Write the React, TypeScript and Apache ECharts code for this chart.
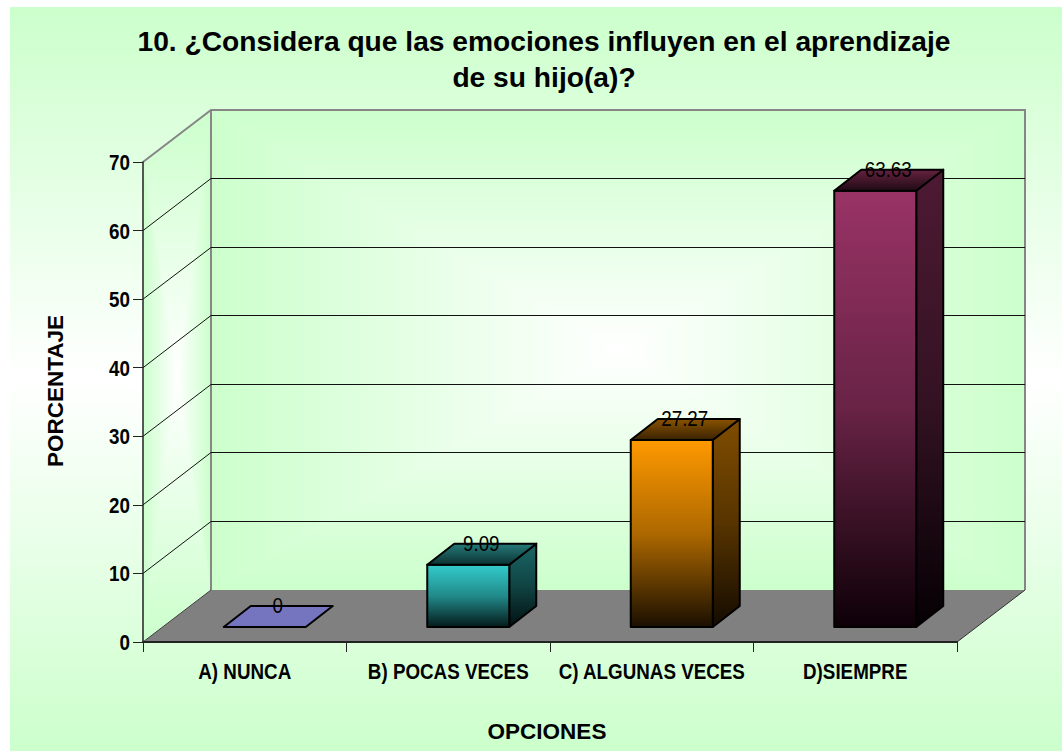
import React, { useEffect, useRef } from "react";
import * as echarts from "echarts";

const TITLE = "10. ¿Considera que las emociones influyen en el aprendizaje\nde su hijo(a)?";
const Y_NAME = "PORCENTAJE";
const X_NAME = "OPCIONES";
const categories = ["A) NUNCA", "B) POCAS VECES", "C) ALGUNAS VECES", "D)SIEMPRE"];
const values = [0, 9.09, 27.27, 63.63];
const yTicks = [0, 10, 20, 30, 40, 50, 60, 70];

const GREEN = "#CCFFCC";
const SANS = '"Liberation Sans", Arial, sans-serif';
const DX = 68, DY = -52; // wall depth
const GAPX = 20, GAPY = -15; // bar placement inside depth
const BW = 82, BDX = 27, BDY = -21; // bar width and depth
const SQUEEZE = 0.855;

// top, middle, bottom of front and side; back and front edge of the top face
const barColors = [
  { front: ["#7575BF", "#7575BF", "#7575BF"], side: ["#7575BF", "#7575BF", "#7575BF"], top: ["#7575BF", "#7575BF"] },
  { front: ["#33CCCC", "#228A8A", "#051A1A"], side: ["#1A6666", "#114444", "#021010"], top: ["#267A7A", "#0C3333"] },
  { front: ["#FF9900", "#AD6800", "#1A0F00"], side: ["#804D00", "#573400", "#140B00"], top: ["#8A5300", "#3A2200"] },
  { front: ["#993366", "#682345", "#0D0007"], side: ["#4D1A33", "#341223", "#050003"], top: ["#66223F", "#200B16"] },
];

const vg = (...cs: string[]) => ({
  type: "linear", x: 0, y: 0, x2: 0, y2: 1,
  colorStops: cs.map((color, i) => ({ offset: i / (cs.length - 1), color })),
});
const hg = (a: string, b: string) => ({
  type: "linear", x: 0, y: 0, x2: 1, y2: 0,
  colorStops: [{ offset: 0, color: a }, { offset: 1, color: b }],
});

// rectangular "from centre" gradient made of four wedges
function pathGradient(p: number[][], c: number[]) {
  const [tl, tr, br, bl] = p;
  const wedge = (a: number[], b: number[], fill: any) => ({
    type: "polygon",
    shape: { points: [a, b, c] },
    style: { fill, stroke: "none" },
  });
  return [
    wedge(tl, tr, vg(GREEN, "#FFFFFF")),
    wedge(bl, br, vg("#FFFFFF", GREEN)),
    wedge(tl, bl, hg(GREEN, "#FFFFFF")),
    wedge(tr, br, hg("#FFFFFF", GREEN)),
  ];
}

function renderWalls(params: any) {
  const { x, y, width: w, height: h } = params.coordSys;
  const b = y + h;
  const r = x + w;
  const back = [[x + DX, y + DY], [r + DX, y + DY], [r + DX, b + DY], [x + DX, b + DY]];
  const side = [[x, y], [x + DX, y + DY], [x + DX, b + DY], [x, b]];
  const cb = [x + DX + w / 2, y + DY + h / 2];
  const cs = [x + DX / 2, y + DY / 2 + h / 2];
  const frame = { stroke: "#868686", lineWidth: 2, fill: "none" };
  return {
    type: "group",
    children: [
      ...pathGradient(back, cb),
      ...pathGradient(side, cs),
      {
        type: "polygon",
        shape: { points: [[x, b], [r, b], [r + DX, b + DY], [x + DX, b + DY]] },
        style: { fill: "#808080", stroke: "none" },
      },
      {
        type: "polyline",
        shape: { points: [[x, y], [x + DX, y + DY], [r + DX, y + DY], [r + DX, b + DY]] },
        style: frame,
      },
      { type: "line", shape: { x1: x + DX, y1: y + DY, x2: x + DX, y2: b + DY }, style: frame },
      { type: "line", shape: { x1: x, y1: b, x2: x + DX, y2: b + DY }, style: { stroke: "#404040", lineWidth: 1 } },
      { type: "line", shape: { x1: r, y1: b, x2: r + DX, y2: b + DY }, style: { stroke: "#303030", lineWidth: 1 } },
    ],
  };
}

function renderGrid(params: any, api: any) {
  const v = api.value(1);
  const { x, width: w } = params.coordSys;
  const yy = api.coord([0, v])[1];
  const by = Math.floor(yy + DY) + 0.5;
  const children: any[] = [];
  if (v > 0 && v < 70) {
    children.push({
      type: "polyline",
      shape: { points: [[x, yy], [x + DX, by], [x + w + DX, by]] },
      style: { stroke: "#111", lineWidth: 1, fill: "none" },
    });
  }
  return { type: "group", children };
}

// squeezed tick labels (the reference uses a narrow face that is not installed)
function squeezedText(text: string, x: number, y: number, align: string, weight: string) {
  return {
    type: "text",
    x,
    y,
    scaleX: SQUEEZE,
    style: {
      text,
      fontFamily: SANS,
      fontWeight: weight,
      fontSize: 22,
      fill: "#000",
      align,
      verticalAlign: "middle",
    },
  };
}

function renderYLabel(params: any, api: any) {
  const v = api.value(1);
  const p = api.coord([0, v]);
  return squeezedText(String(yTicks[params.dataIndex]), params.coordSys.x - 13, p[1], "right", "bold");
}

function renderXLabel(params: any, api: any) {
  const i = params.dataIndex;
  const p = api.coord([i, 0]);
  return squeezedText(categories[i], p[0], p[1] + 29, "center", "bold");
}

function renderBar(params: any, api: any) {
  const i = params.dataIndex;
  const c = barColors[i];
  const p = api.coord([i, api.value(1)]);
  const b0 = api.coord([i, 0]);
  const l = p[0] + GAPX - BW / 2;
  const r = l + BW;
  const t = p[1] + GAPY;
  const bt = b0[1] + GAPY;
  const line = { stroke: "#000", lineWidth: 2, lineJoin: "round" };
  const kids: any[] = [];
  if (bt - t > 0.5) {
    kids.push({
      type: "polygon",
      shape: { points: [[r, t], [r + BDX, t + BDY], [r + BDX, bt + BDY], [r, bt]] },
      style: { fill: vg(...c.side), ...line },
    });
    kids.push({
      type: "polygon",
      shape: { points: [[l, t], [r, t], [r, bt], [l, bt]] },
      style: { fill: vg(...c.front), ...line },
    });
  }
  kids.push({
    type: "polygon",
    shape: { points: [[l, t], [r, t], [r + BDX, t + BDY], [l + BDX, t + BDY]] },
    style: { fill: vg(...c.top), ...line },
  });
  kids.push(squeezedText(String(values[i]), p[0] + GAPX + 13, t + BDY - 1, "center", "normal"));
  return { type: "group", children: kids };
}

export default function App() {
  const ref = useRef<HTMLDivElement>(null);
  useEffect(() => {
    document.body.style.margin = "0";
    const chart = echarts.init(ref.current!, null, { renderer: "svg" });
    chart.setOption({
      animation: false,
      backgroundColor: "#FFFFFF",
      graphic: [
        {
          type: "rect",
          z: -10,
          silent: true,
          shape: { x: 10, y: 7, width: 1052, height: 744 },
          style: {
            fill: {
              type: "linear", x: 0, y: 0, x2: 0, y2: 1,
              colorStops: [
                { offset: 0, color: GREEN },
                { offset: 0.5, color: "#FFFFFF" },
                { offset: 1, color: GREEN },
              ],
            },
          },
        },
        {
          type: "text",
          x: 55,
          y: 391,
          rotation: Math.PI / 2,
          style: {
            text: Y_NAME,
            fontFamily: SANS,
            fontWeight: "bold",
            fontSize: 22.5,
            fill: "#000",
            align: "center",
            verticalAlign: "middle",
          },
        },
        {
          type: "text",
          x: 547,
          y: 731,
          style: {
            text: X_NAME,
            fontFamily: SANS,
            fontWeight: "bold",
            fontSize: 22.5,
            fill: "#000",
            align: "center",
            verticalAlign: "middle",
          },
        },
      ],
      title: {
        text: TITLE,
        left: 539,
        top: 18,
        textAlign: "center",
        textStyle: { fontFamily: SANS, fontWeight: "bold", fontSize: 28.2, lineHeight: 36, color: "#000" },
      },
      grid: { left: 143, top: 162, width: 814, height: 480, outerBoundsMode: "none", containLabel: false },
      xAxis: {
        type: "category",
        data: categories,
        z: 5,
        axisLine: { show: true, lineStyle: { color: "#222", width: 2 } },
        axisTick: { show: true, length: 10, lineStyle: { color: "#222" } },
        axisLabel: { show: false },
        splitLine: { show: false },
      },
      yAxis: {
        type: "value",
        min: 0,
        max: 70,
        interval: 10,
        z: 5,
        axisLine: { show: true, lineStyle: { color: "#222", width: 1.5 } },
        axisTick: { show: true, length: 10, lineStyle: { color: "#222" } },
        axisLabel: { show: false },
        splitLine: { show: false },
      },
      series: [
        { type: "custom", z: 1, silent: true, renderItem: renderWalls, data: [[0, 0]] },
        { type: "custom", z: 2, silent: true, renderItem: renderGrid, data: yTicks.map((v) => [0, v]) },
        { type: "custom", z: 6, silent: true, renderItem: renderBar, data: values.map((v, i) => [i, v]) },
        { type: "custom", z: 6, silent: true, renderItem: renderYLabel, data: yTicks.map((v) => [0, v]) },
        { type: "custom", z: 6, silent: true, renderItem: renderXLabel, data: categories.map((_, i) => [i, 0]) },
      ],
    });
    return () => chart.dispose();
  }, []);
  return <div ref={ref} style={{ width: 1062, height: 751 }} />;
}
